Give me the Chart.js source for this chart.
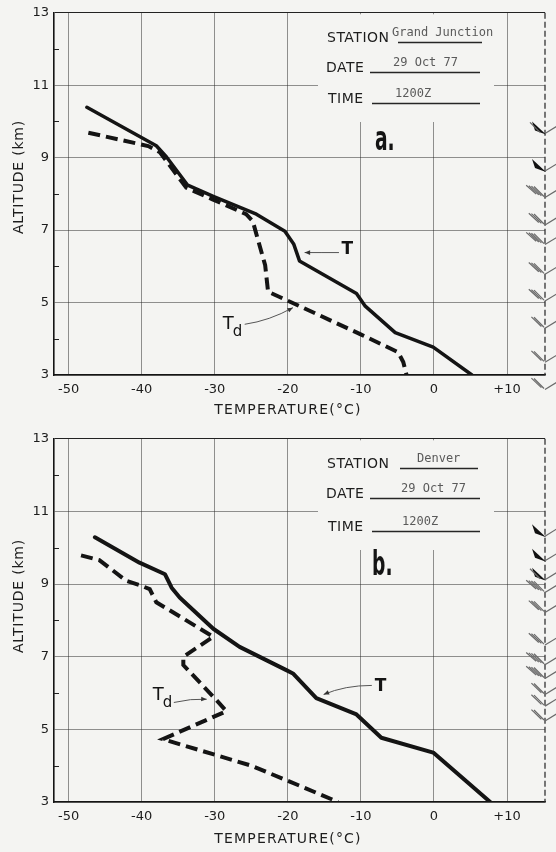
<!DOCTYPE html>
<html>
<head>
<meta charset="utf-8">
<script src="https://cdn.jsdelivr.net/npm/chart.js"></script>
<style>
  html, body { margin: 0; padding: 0; background: #f4f4f2; }
  #wrap { position: relative; width: 556px; height: 852px; overflow: hidden; }
  #wrap canvas { position: absolute; left: 0; }
</style>
</head>
<body>
<div id="wrap">
  <canvas id="chart-a" width="556" height="426" style="top:0"></canvas>
  <canvas id="chart-b" width="556" height="426" style="top:426px"></canvas>
</div>
<script>
// axis ticks
const tempTicks = [-50, -40, -30, -20, -10, 0, 10];
const altTicks = [3, 5, 7, 9, 11, 13];
const altMinor = [4, 6, 8, 10, 12];

// a. Grand Junction, 29 Oct 77 1200Z
const gjTempT = [-47.5, -38.0, -36.6, -33.7, -30.2, -24.3, -20.4, -19.2, -18.4, -10.6, -9.4, -5.3, -0.1, 5.2];
const gjAltT  = [10.39, 9.33, 9.02, 8.24, 7.93, 7.44, 6.97, 6.62, 6.15, 5.25, 4.9, 4.17, 3.77, 3.0];
const gjTempTd = [-47.3, -39.1, -37.5, -33.9, -30.3, -25.7, -24.8, -23.1, -22.7, -20.2, -10.1, -4.9, -4.2, -3.75];
const gjAltTd  = [9.69, 9.32, 9.15, 8.17, 7.85, 7.44, 7.25, 6.03, 5.3, 5.07, 4.13, 3.63, 3.36, 3.0];
const gjWindAlt = [9.67, 8.63, 7.9, 7.14, 6.6, 5.78, 5.04, 4.29, 3.35, 2.6];
const gjWindKt  = [60, 50, 40, 30, 40, 30, 30, 20, 20, 20];

// b. Denver, 29 Oct 77 1200Z
const denTempT = [-46.4, -40.3, -36.8, -35.9, -34.8, -30.2, -26.6, -20.2, -19.3, -16.1, -10.6, -7.2, -0.1, 7.7];
const denAltT  = [10.29, 9.59, 9.27, 8.9, 8.63, 7.77, 7.27, 6.63, 6.54, 5.86, 5.41, 4.77, 4.36, 3.0];
const denTempTd = [-48.3, -45.8, -42.1, -40.0, -38.9, -38.0, -30.2, -34.3, -34.3, -30.2, -28.4, -37.1, -25.0, -18.4, -13.1];
const denAltTd  = [9.79, 9.66, 9.09, 8.95, 8.86, 8.5, 7.55, 7.0, 6.77, 5.9, 5.5, 4.73, 4.0, 3.45, 3.0];
const denWindAlt = [10.32, 9.64, 9.12, 8.77, 8.22, 7.32, 6.78, 6.4, 5.96, 5.64, 5.23];
const denWindKt  = [50, 50, 60, 40, 30, 30, 40, 40, 20, 20, 20];

const FONT = '"DejaVu Sans", "Liberation Sans", sans-serif';
const MONO = '"DejaVu Sans Mono", "Liberation Mono", monospace';
const PAPER = '#f4f4f2';
const INK = '#141414';
const GRID = 'rgba(40,40,40,0.5)';

function toPoints(xs, ys) {
  return xs.map((x, i) => ({ x: x, y: ys[i] }));
}

function drawArrow(ctx, pts, head) {
  // pts: start, control, end in pixels
  ctx.beginPath();
  ctx.moveTo(pts[0][0], pts[0][1]);
  ctx.quadraticCurveTo(pts[1][0], pts[1][1], pts[2][0], pts[2][1]);
  ctx.stroke();
  const a = Math.atan2(pts[2][1] - pts[1][1], pts[2][0] - pts[1][0]);
  ctx.beginPath();
  ctx.moveTo(pts[2][0], pts[2][1]);
  ctx.lineTo(pts[2][0] - head * Math.cos(a - 0.4), pts[2][1] - head * Math.sin(a - 0.4));
  ctx.lineTo(pts[2][0] - head * Math.cos(a + 0.4), pts[2][1] - head * Math.sin(a + 0.4));
  ctx.closePath();
  ctx.fill();
}

function drawBarb(ctx, x0, y, kt) {
  const pennants = Math.floor(kt / 50);
  const barbs = Math.floor((kt % 50) / 10);
  ctx.strokeStyle = '#6a6a6a';
  ctx.lineWidth = 1.2;
  ctx.beginPath();
  ctx.moveTo(x0, y);
  ctx.lineTo(x0 + 18, y - 11);
  ctx.stroke();
  let off = 0;
  for (let p = 0; p < pennants; p++) {
    ctx.fillStyle = '#111';
    ctx.beginPath();
    ctx.moveTo(x0 + 1 - off, y + 1);
    ctx.lineTo(x0 - 13 - off, y - 12);
    ctx.lineTo(x0 - 10 - off, y - 3);
    ctx.closePath();
    ctx.fill();
    off += 4;
  }
  for (let i = 0; i < barbs; i++) {
    ctx.beginPath();
    ctx.moveTo(x0 - 1 - off - 2.6 * i, y - 1 - 0.8 * i);
    ctx.lineTo(x0 - 11 - off - 2.6 * i, y - 11 - 0.4 * i);
    ctx.stroke();
  }
}

const paperPlugin = {
  id: 'paper',
  beforeDatasetsDraw(chart, args, p) {
    const ctx = chart.ctx, ca = chart.chartArea, ys = chart.scales.y;
    ctx.save();
    // blank patch of the grid behind the station box
    ctx.fillStyle = PAPER;
    ctx.fillRect(318, ca.top + 1.5, 176, p.maskBottom - ca.top - 1.5);
    // small inside ticks at the even km
    ctx.strokeStyle = '#222';
    ctx.lineWidth = 1;
    altMinor.forEach(v => {
      const y = Math.round(ys.getPixelForValue(v)) + 0.5;
      ctx.beginPath();
      ctx.moveTo(ca.left, y);
      ctx.lineTo(ca.left + 5, y);
      ctx.stroke();
    });
    // right frame edge (dashed staff of wind barbs)
    ctx.setLineDash([6, 3]);
    ctx.lineWidth = 1.3;
    ctx.strokeStyle = '#333';
    ctx.beginPath();
    ctx.moveTo(ca.right, ca.top);
    ctx.lineTo(ca.right, ca.bottom);
    ctx.stroke();
    ctx.restore();
  },
  afterDatasetsDraw(chart, args, p) {
    const ctx = chart.ctx, ca = chart.chartArea;
    const xs = chart.scales.x, ys = chart.scales.y;
    const px = (t, a) => [xs.getPixelForValue(t), ys.getPixelForValue(a)];
    ctx.save();

    // station box
    ctx.fillStyle = '#1d1d1d';
    ctx.font = '14px ' + FONT;
    ctx.textBaseline = 'alphabetic';
    ctx.letterSpacing = '0.5px';
    ctx.fillText('STATION', 327, 42);
    ctx.fillText('DATE', 326, 72);
    ctx.fillText('TIME', 328, p.timeBase);
    ctx.letterSpacing = '0px';
    ctx.fillStyle = '#5a5a5a';
    ctx.font = '12px ' + MONO;
    ctx.fillText(p.station, p.stationX, 36);
    ctx.fillText(p.date, p.dateX, 66);
    ctx.fillText(p.time, p.timeX, p.timeBase - 6);
    ctx.strokeStyle = '#262626';
    ctx.lineWidth = 1.3;
    [[p.stationLine[0], p.stationLine[1], 42], [370, 480, 72], [372, 480, p.timeBase]].forEach(l => {
      ctx.beginPath();
      ctx.moveTo(l[0], l[2] + 0.5);
      ctx.lineTo(l[1], l[2] + 0.5);
      ctx.stroke();
    });

    // panel tag
    ctx.save();
    ctx.translate(p.tagX, p.tagBase);
    ctx.scale(0.55, 1);
    ctx.fillStyle = INK;
    ctx.font = 'bold 34px ' + FONT;
    ctx.fillText(p.tag, 0, 0);
    ctx.restore();

    // curve labels with arrows
    ctx.fillStyle = INK;
    ctx.strokeStyle = '#555';
    ctx.lineWidth = 1;
    const tl = px(p.tLabel.x, p.tLabel.y);
    ctx.font = 'bold 17px ' + FONT;
    ctx.textBaseline = 'middle';
    ctx.fillText('T', tl[0], tl[1]);
    ctx.fillStyle = '#333';
    drawArrow(ctx, p.tArrow.map(a => px(a[0], a[1])), 6);
    const dl = px(p.tdLabel.x, p.tdLabel.y);
    ctx.fillStyle = INK;
    ctx.font = '18px ' + FONT;
    ctx.fillText('T', dl[0], dl[1]);
    ctx.font = '15px ' + FONT;
    ctx.fillText('d', dl[0] + 10, dl[1] + 8);
    ctx.fillStyle = '#333';
    drawArrow(ctx, p.tdArrow.map(a => px(a[0], a[1])), 6);

    // wind barbs along the right edge
    p.windAlt.forEach((a, i) => drawBarb(ctx, ca.right, ys.getPixelForValue(a), p.windKt[i]));

    // axis titles
    ctx.fillStyle = '#1d1d1d';
    ctx.font = '14px ' + FONT;
    ctx.letterSpacing = '1.2px';
    ctx.textAlign = 'center';
    ctx.textBaseline = 'middle';
    ctx.fillText('TEMPERATURE(\u00B0C)', 288, p.xTitleY);
    ctx.translate(19, p.yTitleY);
    ctx.rotate(-Math.PI / 2);
    ctx.letterSpacing = '0.8px';
    ctx.fillText('ALTITUDE (km)', 0, 0);
    ctx.restore();
  }
};

function makeChart(id, p) {
  return new Chart(document.getElementById(id), {
    type: 'scatter',
    data: {
      datasets: [
        { label: 'T', data: toPoints(p.tempT, p.altT), showLine: true, borderColor: INK,
          borderWidth: p.tWidth, pointRadius: 0, borderJoinStyle: 'round', borderCapStyle: 'round' },
        { label: 'Td', data: toPoints(p.tempTd, p.altTd), showLine: true, borderColor: INK,
          borderWidth: 4, borderDash: [12, 6], pointRadius: 0, borderJoinStyle: 'miter' }
      ]
    },
    options: {
      responsive: false,
      animation: false,
      devicePixelRatio: 1,
      layout: { padding: { top: p.top, right: 11, left: 0, bottom: 0 } },
      plugins: { legend: { display: false }, tooltip: { enabled: false }, paper: p },
      scales: {
        x: {
          type: 'linear', min: -52, max: 15.2,
          afterBuildTicks: s => { s.ticks = tempTicks.map(v => ({ value: v })); },
          afterFit: s => { s.height = 426 - p.bottom; },
          grid: { color: GRID, lineWidth: 1, drawTicks: false },
          border: { color: INK, width: 1.6 },
          ticks: { padding: 7, color: '#1c1c1c', font: { family: FONT, size: 13 }, maxRotation: 0, autoSkip: false,
                   callback: v => v > 0 ? '+' + v : String(v) }
        },
        y: {
          type: 'linear', min: 3, max: 13,
          afterBuildTicks: s => { s.ticks = altTicks.map(v => ({ value: v })); },
          afterFit: s => { s.width = 54; },
          grid: { color: c => (c.tick && c.tick.value === 13) ? '#222' : GRID, lineWidth: 1, drawTicks: false },
          border: { color: INK, width: 1.6 },
          ticks: { padding: 5, color: '#1c1c1c', font: { family: FONT, size: 13 }, autoSkip: false }
        }
      }
    },
    plugins: [paperPlugin]
  });
}

makeChart('chart-a', {
  tempT: gjTempT, altT: gjAltT, tempTd: gjTempTd, altTd: gjAltTd,
  windAlt: gjWindAlt, windKt: gjWindKt,
  top: 10, bottom: 375, tWidth: 3.5,
  station: 'Grand Junction', date: '29 Oct 77', time: '1200Z', tag: 'a.',
  stationX: 392, dateX: 393, timeX: 395, stationLine: [398, 482], timeBase: 103,
  maskBottom: 122, tagX: 375, tagBase: 150, yTitleY: 177, xTitleY: 410,
  tLabel: { x: -12.65, y: 6.47 }, tArrow: [[-13.0, 6.38], [-15.3, 6.38], [-17.7, 6.38]],
  tdLabel: { x: -28.9, y: 4.40 }, tdArrow: [[-25.9, 4.40], [-22.5, 4.5], [-19.3, 4.86]]
});

makeChart('chart-b', {
  tempT: denTempT, altT: denAltT, tempTd: denTempTd, altTd: denAltTd,
  windAlt: denWindAlt, windKt: denWindKt,
  top: 8, bottom: 376, tWidth: 4,
  station: 'Denver', date: '29 Oct 77', time: '1200Z', tag: 'b.',
  stationX: 417, dateX: 401, timeX: 402, stationLine: [400, 478], timeBase: 105,
  maskBottom: 124, tagX: 372, tagBase: 149, yTitleY: 170, xTitleY: 413,
  tLabel: { x: -8.1, y: 6.18 }, tArrow: [[-8.5, 6.21], [-12.2, 6.21], [-15.1, 5.96]],
  tdLabel: { x: -38.5, y: 5.93 }, tdArrow: [[-35.6, 5.74], [-33.3, 5.85], [-31.1, 5.83]]
});
</script>
</body>
</html>
